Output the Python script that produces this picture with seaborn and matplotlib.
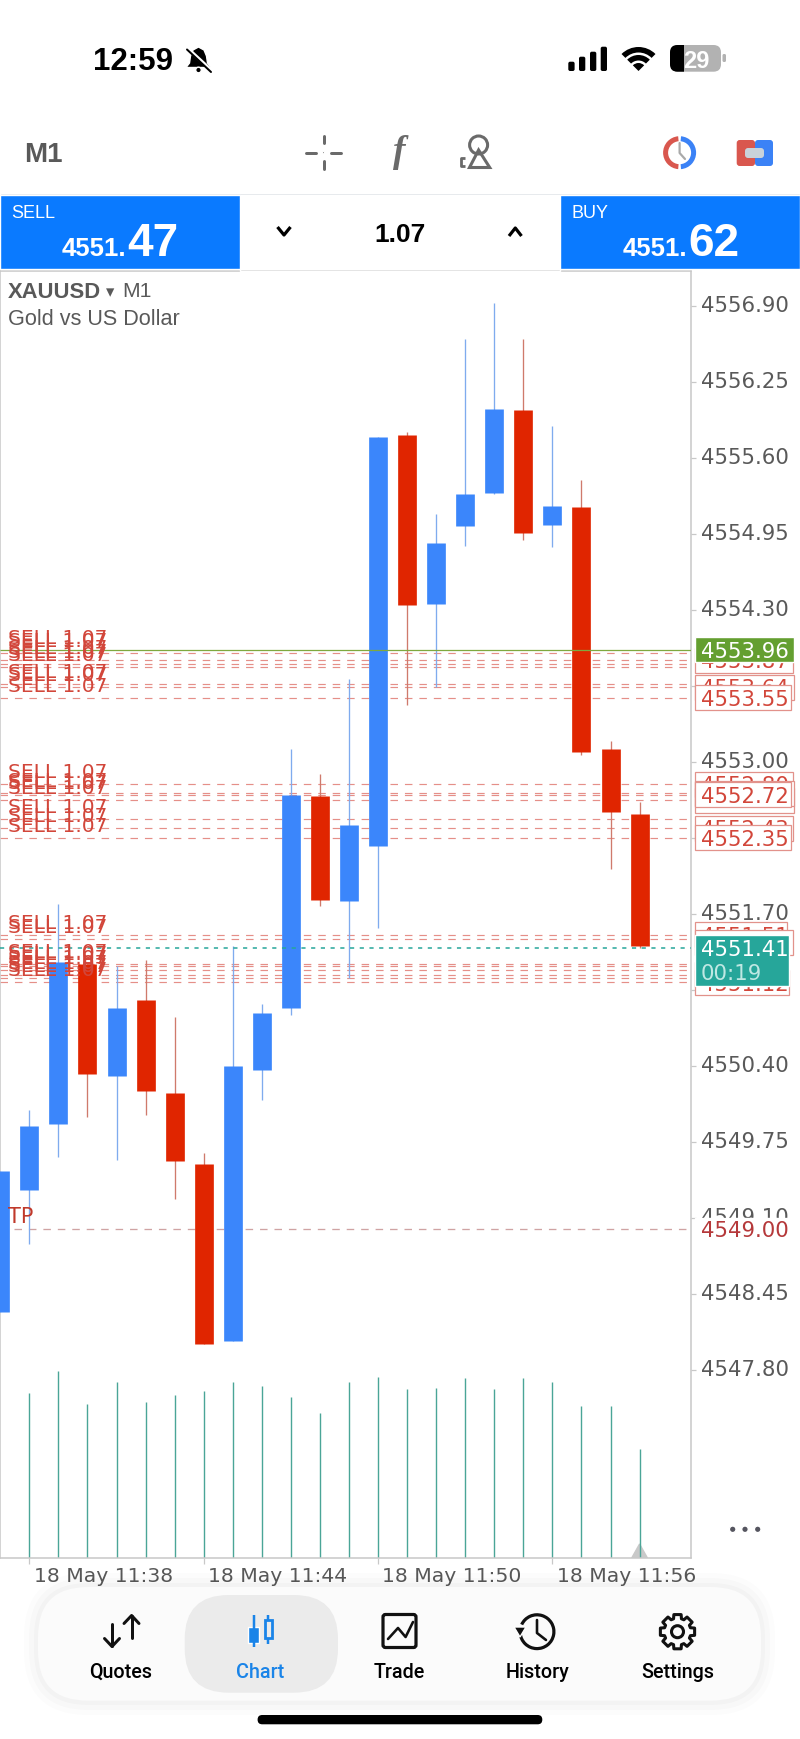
import numpy as np
import pandas as pd
import seaborn as sns
import matplotlib.pyplot as plt
from matplotlib.patches import FancyBboxPatch, Rectangle, Circle, Wedge, Polygon
from matplotlib.transforms import ScaledTranslation

# candles, one minute each, 18 May 11:37 -> 11:59
candle_open = [4548.29, 4549.34, 4549.90, 4551.27, 4550.31, 4550.96, 4550.17, 4549.56, 4548.04, 4550.36, 4550.89, 4552.71,
               4551.81, 4552.28, 4555.80, 4554.35, 4555.02, 4555.30, 4556.01, 4555.03, 4555.18, 4553.11, 4552.55]
candle_close = [4549.50, 4549.88, 4551.29, 4550.33, 4550.89, 4550.18, 4549.58, 4548.02, 4550.40, 4550.85, 4552.72, 4551.82,
                4552.46, 4555.78, 4554.34, 4554.87, 4555.29, 4556.02, 4554.96, 4555.19, 4553.08, 4552.57, 4551.42]
candle_high = [4549.50, 4550.02, 4551.78, 4551.27, 4551.25, 4551.30, 4550.82, 4549.65, 4551.42, 4550.93, 4553.11, 4552.90,
               4553.71, 4555.78, 4555.82, 4555.12, 4556.62, 4556.93, 4556.62, 4555.87, 4555.41, 4553.18, 4552.66]
candle_low = [4548.29, 4548.87, 4549.62, 4549.96, 4549.59, 4549.98, 4549.26, 4548.02, 4548.04, 4550.11, 4550.83, 4551.77,
              4551.15, 4551.58, 4553.49, 4553.64, 4554.85, 4555.29, 4554.90, 4554.84, 4553.06, 4552.08, 4551.41]
# tick volume, first candle has no visible bar
volumes = [165, 187, 154, 176, 156, 163, 167, 176, 172, 161, 145, 176, 181, 169, 170, 180, 169, 180, 176, 152, 152, 109]

price_ticks = [4556.90, 4556.25, 4555.60, 4554.95, 4554.30, 4553.65, 4553.00, 4552.35,
               4551.70, 4551.05, 4550.40, 4549.75, 4549.10, 4548.45, 4547.80]
time_tick_pos = [1, 7, 13, 19]
time_tick_labels = ['18 May 11:38', '18 May 11:44', '18 May 11:50', '18 May 11:56']

order_prices = [4553.93, 4553.87, 4553.84, 4553.81, 4553.67, 4553.64, 4553.55,
                4552.81, 4552.73, 4552.72, 4552.67, 4552.51, 4552.43, 4552.35,
                4551.52, 4551.48, 4551.27, 4551.25, 4551.22, 4551.18, 4551.15, 4551.12]
extra_sell_label = 4553.96
tp_price = 4549.00
ask_line = 4553.96
last_price = 4551.41

# price labels in the order they stack up on the right side
stack_prices = [4553.87, 4553.64, 4553.55, 4552.81, 4552.67, 4552.73, 4552.72, 4552.43, 4552.35,
                4551.52, 4551.45, 4551.18, 4551.11]
stack_texts = ['4553.87', '4553.64', '4553.55', '4552.80', '4552.67', '4552.73', '4552.72', '4552.43', '4552.35',
               '4551.51', '4551.48', '4551.18', '4551.12']

BLUE = '#3b86fb'
RED = '#e02500'
LABEL_RED = '#d2463a'
TEAL = '#26a69a'
GRAY = '#595959'
BORDER = '#c8c8c8'
PANEL = '#0a7aff'
HELV = ['Liberation Sans', 'DejaVu Sans']

sns.set_theme(style='white')
plt.rcParams['lines.solid_capstyle'] = 'butt'
plt.rcParams['lines.scale_dashes'] = False
plt.rcParams['font.family'] = ['DejaVu Sans']

fig = plt.figure(figsize=(8, 17.39), dpi=100, facecolor='white')
rect = [0, (1739 - 1558) / 1739, 691 / 800, (1558 - 271) / 1739]

ax_vol = fig.add_axes(rect, zorder=1)
ax = fig.add_axes(rect, zorder=2)
ax.patch.set_alpha(0)

idx = np.arange(len(candle_open))
df = pd.DataFrame({'i': idx, 'open': candle_open, 'close': candle_close, 'high': candle_high, 'low': candle_low})
df['side'] = np.where(df['close'] >= df['open'], 'up', 'down')
palette = {'up': BLUE, 'down': RED}
wick_palette = {'up': '#7fabee', 'down': '#cf7a6c'}

# order lines go under the candles
for p in order_prices:
    ax.axhline(p, color='#e58f88', lw=0.85, ls=(0, (5.4, 5.0)), zorder=1)
ax.axhline(tp_price, xmin=0.02, color='#cfa3a3', lw=0.95, ls=(0, (5.4, 5.0)), zorder=1)

wicks = df.melt(id_vars=['i', 'side'], value_vars=['high', 'low'], value_name='price')
bodies = df.melt(id_vars=['i', 'side'], value_vars=['open', 'close'], value_name='price')
sns.lineplot(data=wicks, x='i', y='price', hue='side', units='i', estimator=None, palette=wick_palette,
             linewidth=0.95, legend=False, ax=ax, zorder=2)
sns.lineplot(data=bodies, x='i', y='price', hue='side', units='i', estimator=None, palette=palette,
             linewidth=13.46, legend=False, ax=ax, zorder=3)

ax.axhline(ask_line, color='#7fa83f', lw=0.9, zorder=4)
ax.axhline(last_price, color=TEAL, lw=1.1, ls=(0, (3.0, 4.0)), zorder=4)

# volume bars share the x axis, own y scale
vol_df = pd.DataFrame({'i': np.repeat(idx[1:], 2), 'vol': np.ravel(np.column_stack([np.zeros(len(volumes)), volumes])),
                       })
ax_vol.fill([21.73, 22, 22.27], [0, 14, 0], color='#c9c9c9', zorder=1)
sns.lineplot(data=vol_df, x='i', y='vol', units='i', estimator=None, color='#4aa597', linewidth=1.0,
             legend=False, ax=ax_vol, zorder=2)
ax_vol.set_ylim(0, 1287)
ax_vol.set_xlim(-0.01, 23.77)
ax_vol.axis('off')

ax.set_xlim(-0.01, 23.77)
ax.set_ylim(4546.187, 4557.20)
ax.set_xlabel('')
ax.set_ylabel('')
ax.yaxis.tick_right()
ax.set_yticks(price_ticks)
ax.set_yticklabels(['%.2f' % p for p in price_ticks], fontsize=15.3, color=GRAY)
ax.set_xticks(time_tick_pos)
ax.set_xticklabels(time_tick_labels, fontsize=14.7, color=GRAY, ha='left')
ax.tick_params(axis='y', length=3.6, width=0.9, color=BORDER, pad=3.6, right=True, left=False)
ax.tick_params(axis='x', length=4.2, width=0.9, color=BORDER, pad=2.0, bottom=True)
shift = ScaledTranslation(4.3 / 100, 0, fig.dpi_scale_trans)
for lab in ax.get_xticklabels():
    lab.set_transform(lab.get_transform() + shift)
lift = ScaledTranslation(0, 2 / 100, fig.dpi_scale_trans)
for lab in ax.get_yticklabels():
    lab.set_transform(lab.get_transform() + lift)
for s in ax.spines.values():
    s.set_color(BORDER)
    s.set_linewidth(1.1)
    s.set_visible(True)

# SELL tags sit just above each order line
tag_up = ScaledTranslation(0, 6 / 100, fig.dpi_scale_trans)
tag_tr = ax.get_yaxis_transform() + tag_up
for p in [extra_sell_label] + order_prices:
    ax.text(8 / 691, p, 'SELL 1.07', transform=tag_tr, color=LABEL_RED, fontsize=14.5, va='baseline', ha='left',
            zorder=6)
ax.text(8 / 691, tp_price, 'TP', transform=ax.get_yaxis_transform() + ScaledTranslation(0, 6.5 / 100, fig.dpi_scale_trans),
        color='#c0392b', fontsize=15, va='baseline', ha='left', zorder=6)

# right hand price labels
yt = ax.get_yaxis_transform()
box_x = 694.7 / 691
text_x = 701 / 691
half = 12.5 / 116.9
stack_widths = [98, 99.6, 96.3, 98, 99.6, 99.6, 96.3, 98, 96.3, 92.3, 98, 92.3, 94]
z = 10
for p, t, w in zip(stack_prices, stack_texts, stack_widths):
    ax.add_patch(Rectangle((box_x, p - half), w / 691, 2 * half, transform=yt, facecolor='white', edgecolor='#e2928b',
                           lw=0.9, clip_on=False, zorder=z))
    ax.text(text_x, p, t, transform=yt, color=LABEL_RED, fontsize=15.3, va='center_baseline', ha='left', zorder=z + 0.5)
    z += 1

ax.add_patch(Rectangle((box_x, ask_line - half), 99.6 / 691, 2 * half, transform=yt, facecolor='#649f30', clip_on=False,
                       zorder=z))
ax.text(text_x, ask_line, '%.2f' % ask_line, transform=yt, color='white', fontsize=15.3, va='center_baseline', zorder=z + 0.5)
ax.add_patch(Rectangle((box_x, last_price - 0.331), 94.3 / 691, 0.436, transform=yt, facecolor=TEAL, clip_on=False, zorder=z))
ax.text(text_x, last_price, '%.2f' % last_price, transform=yt, color='white', fontsize=15.3, va='center_baseline', zorder=z + 0.5)
ax.text(text_x, last_price - 0.205, '00:19', transform=yt, color='#bfe8e3', fontsize=15.3, va='center_baseline', zorder=z + 0.5)
ax.add_patch(Rectangle((box_x, tp_price - 0.1), 92 / 691, 0.2, transform=yt, facecolor='white', clip_on=False, zorder=z))
ax.text(text_x, tp_price, '%.2f' % tp_price, transform=yt, color='#b5383a', fontsize=15.3, va='center_baseline', zorder=z + 0.5)

# everything around the chart is drawn in screen pixels
ui = fig.add_axes([0, 0, 1, 1], zorder=5)
ui.set_xlim(0, 800)
ui.set_ylim(1739, 0)
ui.axis('off')
ui.patch.set_alpha(0)


def label(x, y, s, size, color='black', fam=HELV, ha='left', **kw):
    ui.text(x, y, s, fontsize=size, color=color, family=fam, ha=ha, va='center_baseline', **kw)


def rbox(x0, y0, x1, y1, r, color, **kw):
    p = FancyBboxPatch((x0, y0), x1 - x0, y1 - y0, boxstyle='round,pad=0,rounding_size=%g' % r, facecolor=color,
                       edgecolor='none', **kw)
    ui.add_patch(p)
    return p


def stroke(xs, ys, color='black', px=3, cap='round', **kw):
    ui.plot(xs, ys, color=color, lw=px * 0.72, solid_capstyle=cap, solid_joinstyle='round', **kw)


# status bar
label(93, 59, '12:59', 22.5, weight='bold')
ui.add_patch(Polygon([(198.5, 47), (193, 50), (190.5, 56), (189.5, 63), (186, 67.5), (211, 67.5), (207.5, 63), (206.5, 56), (204, 50)],
                     facecolor='black'))
ui.add_patch(Circle((198.5, 70), 2.8, facecolor='black'))
stroke([186, 211], [47, 70], color='white', px=3.5)
stroke([187, 211], [49.5, 72], px=2)

for x0, top in zip([568.3, 579, 590, 600.7], [61.7, 56.7, 51.7, 46.7]):
    rbox(x0, top, x0 + 6.3, 71, 1.8, 'black')
for r0, wd in [(8, 8), (16, 5.5), (24, 5.5)]:
    ui.add_patch(Wedge((638.5, 71), r0, 225, 315, width=wd, facecolor='black', edgecolor='none'))
rbox(670, 45, 721, 71.7, 7.5, '#b2b2b2')
dark = rbox(670, 45, 721, 71.7, 7.5, 'black')
dark.set_clip_path(Rectangle((670, 44), 14, 29, transform=ui.transData))
rbox(722.5, 54, 726, 62, 1.5, '#b2b2b2')
label(696, 59, '29', 17, color='white', ha='center', weight='bold')

# toolbar
label(24.5, 152, 'M1', 20, color=GRAY, weight='bold')
ICON = '#6a6a6a'
stroke([323.5, 323.5], [136, 143], color=ICON)
stroke([323.5, 323.5], [161, 169], color=ICON)
stroke([306, 316], [152.7, 152.7], color=ICON)
stroke([331, 341], [152.7, 152.7], color=ICON)
ui.add_patch(Circle((323.5, 152.7), 1.2, facecolor=ICON))
ui.text(399, 152, 'f', fontsize=27, style='italic', weight='bold', family=['Liberation Serif'], color=ICON, ha='center', va='center')
ui.add_patch(Circle((478.6, 145), 9, facecolor='none', edgecolor=ICON, lw=2.2))
ui.add_patch(Polygon([(478.6, 150), (469.5, 167.5), (489.7, 167.5)], facecolor='none', edgecolor=ICON, lw=2.2))
stroke([465, 460.5, 460.5, 465], [157.7, 157.7, 166, 166], color=ICON, px=2.8, cap='butt')

ui.add_patch(Wedge((679.6, 152.7), 16.5, 95, 265, width=5, facecolor='#d9574e', edgecolor='none'))
ui.add_patch(Wedge((679.6, 152.7), 16.5, -85, 85, width=5, facecolor='#3b82f6', edgecolor='none'))
stroke([679.6, 679.6, 685], [143, 153, 159], color='#a9a9a9', px=2.2)
rbox(736.7, 140, 755, 166, 3, '#d9574e')
rbox(755, 140, 773, 166, 3, '#3b82f6')
rbox(745, 148, 764, 158, 3, '#c9d2da')

# trade panel
ui.add_patch(Rectangle((0, 193), 800, 1.5, facecolor='#d9dde2'))
ui.add_patch(Rectangle((0, 195), 240, 74, facecolor=PANEL))
ui.add_patch(Rectangle((560, 195), 240, 74, facecolor=PANEL))
ui.add_patch(Rectangle((240, 269), 320, 1.6, facecolor='#d4d4d4'))
label(11, 211, 'SELL', 13, color='white')
label(62, 246.5, '4551.', 18.5, color='white', weight='bold')
label(127, 238.7, '47', 33, color='white', weight='bold')
label(571.4, 211, 'BUY', 13, color='white')
label(622.4, 246.5, '4551.', 18.5, color='white', weight='bold')
label(688.3, 238.7, '62', 33, color='white', weight='bold')
label(399.5, 233, '1.07', 19, ha='center', weight='bold')
stroke([277.5, 284, 290.5], [227, 235, 227], px=3.2, cap='butt')
stroke([509, 515.3, 521.5], [236, 228, 236], px=3.2, cap='butt')

# chart header
label(7.6, 289.5, 'XAUUSD', 15.8, color=GRAY, weight='bold')
label(110, 290, '▾', 12, color=GRAY, fam=['DejaVu Sans'], ha='center')
label(122.5, 289.5, 'M1', 15.2, color=GRAY)
label(7.6, 316.7, 'Gold vs US Dollar', 15.6, color=GRAY)

for x0 in [732.7, 745, 757.7]:
    ui.add_patch(Circle((x0, 1529.3), 3.3, facecolor='#55555f'))

# tab bar
for grow, a in [(14, 0.012), (9, 0.015), (4, 0.02)]:
    rbox(38 - grow, 1587 - grow, 761 + grow, 1701 + grow, 50 + grow, 'black', alpha=a)
rbox(38, 1587, 761, 1700.7, 50, '#fbfbfb')
rbox(184.7, 1595, 338, 1692.7, 44, '#ebebeb')
CHART_BLUE = '#1a84e8'
for x0, s, c in zip([121, 260, 399.5, 537.8, 677.5], ['Quotes', 'Chart', 'Trade', 'History', 'Settings'],
                    ['black', CHART_BLUE, 'black', 'black', 'black']):
    label(x0, 1670, s, 14.2, color=c, ha='center', fam=['Roboto', 'Liberation Sans'], weight='medium')

INK = '#111111'
stroke([112, 112], [1624, 1646], color=INK)
stroke([104.5, 112, 119.5], [1638.5, 1646.5, 1638.5], color=INK)
stroke([131.6, 131.6], [1616, 1638], color=INK)
stroke([124, 131.6, 139], [1623.5, 1615.5, 1623.5], color=INK)

stroke([253.6, 253.6], [1615, 1647], color=CHART_BLUE, px=2.5, cap='butt')
ui.add_patch(Rectangle((248, 1626.7), 11.2, 16, facecolor=CHART_BLUE))
stroke([268.4, 268.4], [1615, 1620], color=CHART_BLUE, px=2.5, cap='butt')
stroke([268.4, 268.4], [1638, 1644], color=CHART_BLUE, px=2.5, cap='butt')
ui.add_patch(Rectangle((264.5, 1620), 7.8, 18, facecolor='none', edgecolor=CHART_BLUE, lw=2))

frame = FancyBboxPatch((383, 1614.5), 33, 33, boxstyle='round,pad=0,rounding_size=2.5', facecolor='none', edgecolor=INK, lw=2.3)
ui.add_patch(frame)
stroke([388, 398, 405.6, 413], [1639, 1628, 1637, 1622], color=INK, px=2.6)

ui.add_patch(Wedge((537, 1631.7), 18.5, 205, 175 + 360, width=3.2, facecolor=INK, edgecolor='none'))
ui.add_patch(Polygon([(514, 1627), (526, 1627), (520, 1637)], facecolor=INK))
stroke([537, 537, 546], [1620, 1633, 1640], color=INK, px=2.6)

angles = np.deg2rad(np.arange(0, 360, 45))
gear = []
for a in angles:
    for da, r0 in [(-17, 13.5), (-12, 17.5), (12, 17.5), (17, 13.5)]:
        t = a + np.deg2rad(da)
        gear.append((677.5 + r0 * np.cos(t), 1631.7 + r0 * np.sin(t)))
ui.add_patch(Polygon(gear, facecolor='none', edgecolor=INK, lw=2.2, joinstyle='round'))
ui.add_patch(Circle((677.5, 1631.7), 6, facecolor='none', edgecolor=INK, lw=2.2))

rbox(257.6, 1715, 542.3, 1724.3, 4.6, 'black')

fig.savefig('out.png', dpi=100)
